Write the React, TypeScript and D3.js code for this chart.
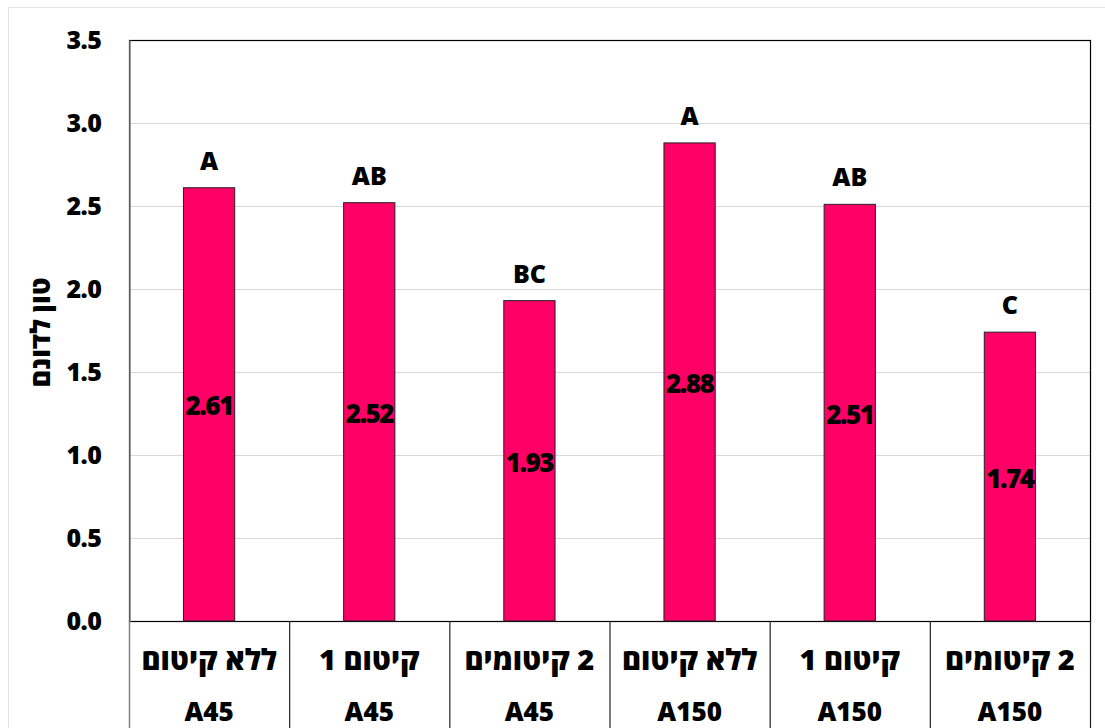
import { useEffect, useRef } from "react";
import * as d3 from "d3";

const treatments = ["ללא קיטום", "קיטום 1", "2 קיטומים", "ללא קיטום", "קיטום 1", "2 קיטומים"];
const groups = ["A45", "A45", "A45", "A150", "A150", "A150"];
const yields = [2.61, 2.52, 1.93, 2.88, 2.51, 1.74];
const letters = ["A", "AB", "BC", "A", "AB", "C"];
const yTicks = [0, 0.5, 1, 1.5, 2, 2.5, 3, 3.5];

export default function App() {
  const ref = useRef<SVGSVGElement | null>(null);

  useEffect(() => {
    if (!ref.current) return;
    const svg = d3.select(ref.current);
    svg.selectAll("*").remove();

    const width = 1105;
    const height = 728;
    const margin = { top: 40, right: 15, bottom: 107, left: 129 };
    const font = "'Open Sans', sans-serif";
    const weight = 800;

    const idx = d3.range(yields.length).map(String);
    const x = d3.scaleBand()
      .domain(idx)
      .range([margin.left, width - margin.right])
      .paddingInner(0)
      .paddingOuter(0);
    const bw = x.bandwidth() * 0.32;

    const y = d3.scaleLinear()
      .domain([0, 3.5])
      .range([height - margin.bottom, margin.top]);

    // outer frame
    svg.append("rect")
      .attr("x", 8.5).attr("y", 7.5)
      .attr("width", width + 10).attr("height", height)
      .attr("fill", "#fff").attr("stroke", "#e3e3e3");

    // gridlines
    svg.append("g")
      .selectAll("line")
      .data(yTicks.slice(1, -1))
      .join("line")
      .attr("x1", margin.left).attr("x2", width - margin.right)
      .attr("y1", d => Math.round(y(d)) + 0.5).attr("y2", d => Math.round(y(d)) + 0.5)
      .attr("stroke", "#d9d9d9");

    // plot border
    svg.append("rect")
      .attr("x", margin.left + 0.5).attr("y", margin.top + 0.5)
      .attr("width", width - margin.right - margin.left)
      .attr("height", y(0) - margin.top)
      .attr("fill", "none").attr("stroke", "#000").attr("stroke-width", 1.2);

    // bars
    svg.append("g")
      .selectAll("rect")
      .data(yields)
      .join("rect")
      .attr("x", (_, i) => x(String(i))! + x.bandwidth() / 2 - bw / 2)
      .attr("y", d => y(d))
      .attr("width", bw)
      .attr("height", d => y(0) - y(d))
      .attr("fill", "#ff0066")
      .attr("stroke", "#222")
      .attr("stroke-width", 1);

    // value labels
    svg.append("g")
      .selectAll("text")
      .data(yields)
      .join("text")
      .attr("x", (_, i) => x(String(i))! + x.bandwidth() / 2)
      .attr("y", d => (y(d) + y(0)) / 2 + 11)
      .attr("text-anchor", "middle")
      .attr("font-family", font).attr("font-weight", weight).attr("font-size", 26)
      .attr("letter-spacing", -1.5)
      .text(d => d.toFixed(2));

    // significance letters
    svg.append("g")
      .selectAll("text")
      .data(yields)
      .join("text")
      .attr("x", (_, i) => x(String(i))! + x.bandwidth() / 2)
      .attr("y", d => y(d) - 18)
      .attr("text-anchor", "middle")
      .attr("font-family", font).attr("font-weight", weight).attr("font-size", 25)
      .text((_, i) => letters[i]);

    // y axis
    const yAxis = svg.append("g")
      .attr("transform", `translate(${margin.left + 0.5},0)`)
      .call(d3.axisLeft(y).tickValues(yTicks).tickSize(0).tickPadding(28).tickFormat(d3.format(".1f")));
    yAxis.select(".domain").attr("stroke", "#808080").attr("stroke-width", 1.5);
    yAxis.selectAll("text")
      .attr("font-family", font).attr("font-weight", weight).attr("font-size", 25)
      .attr("letter-spacing", -0.5)
      .attr("fill", "#000");

    // category table
    const bottom = y(0);
    svg.append("g")
      .selectAll("line")
      .data(d3.range(yields.length + 1))
      .join("line")
      .attr("x1", i => (i < yields.length ? x(String(i))! : width - margin.right) + 0.5)
      .attr("x2", i => (i < yields.length ? x(String(i))! : width - margin.right) + 0.5)
      .attr("y1", bottom).attr("y2", height)
      .attr("stroke", i => (i === 0 ? "#808080" : "#222"))
      .attr("stroke-width", i => (i === 0 ? 1.5 : 1.2));

    svg.append("g")
      .selectAll("text")
      .data(treatments)
      .join("text")
      .attr("x", (_, i) => x(String(i))! + x.bandwidth() / 2)
      .attr("y", bottom + 49)
      .attr("text-anchor", "middle")
      .attr("direction", "rtl")
      .attr("font-family", font).attr("font-weight", weight).attr("font-size", 29)
      .text(d => d);

    svg.append("g")
      .selectAll("text")
      .data(groups)
      .join("text")
      .attr("x", (_, i) => x(String(i))! + x.bandwidth() / 2)
      .attr("y", bottom + 100)
      .attr("text-anchor", "middle")
      .attr("font-family", font).attr("font-weight", weight).attr("font-size", 26)
      .text(d => d);

    // y title
    svg.append("text")
      .attr("transform", `translate(50,${(margin.top + bottom) / 2 + 2}) rotate(-90)`)
      .attr("text-anchor", "middle")
      .attr("direction", "rtl")
      .attr("font-family", font).attr("font-weight", weight).attr("font-size", 27)
      .text("טון לדונם");
  }, []);

  return (
    <svg
      ref={ref}
      width={1105}
      height={728}
      style={{ position: "absolute", left: 0, top: 0, background: "#fff" }}
    />
  );
}
